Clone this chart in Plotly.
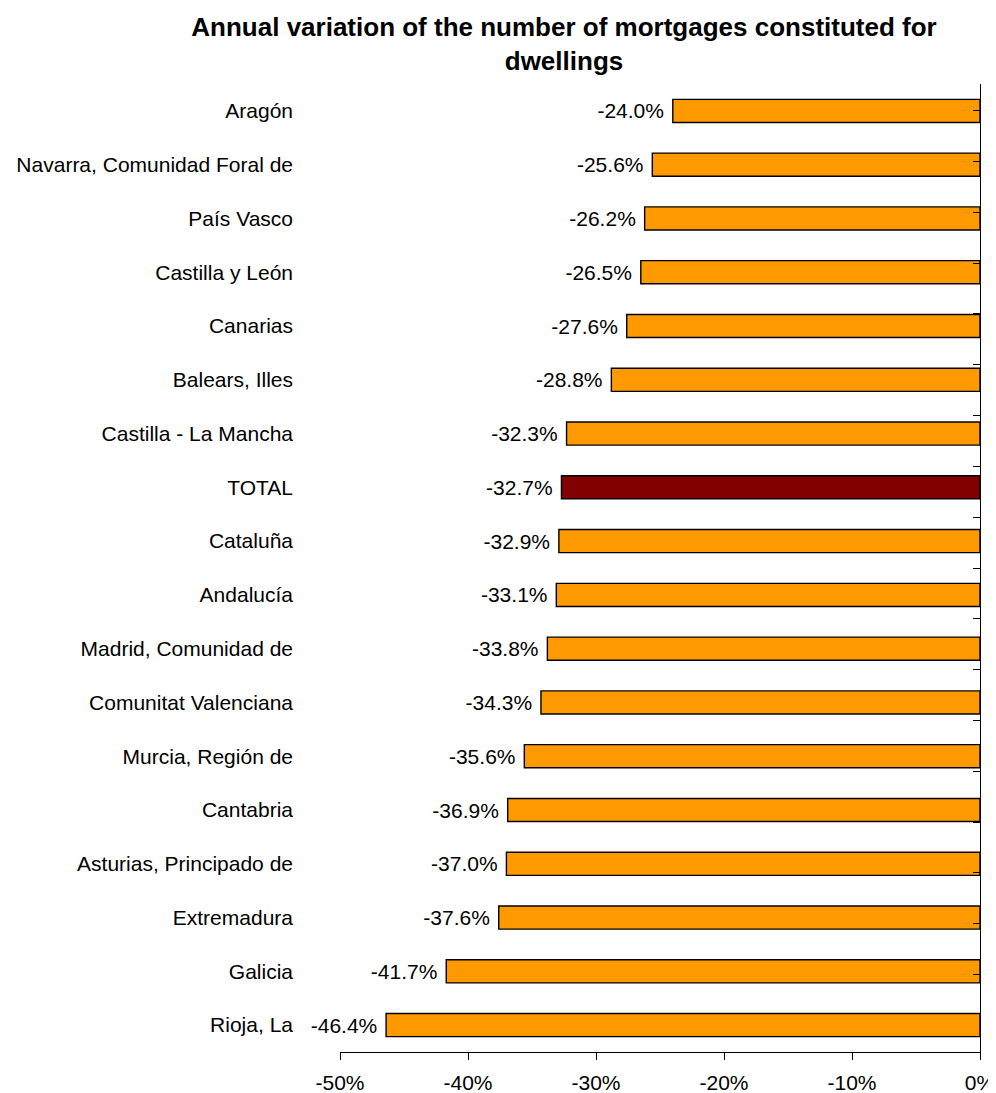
import plotly.graph_objects as go

regions = ["Aragón", "Navarra, Comunidad Foral de", "País Vasco", "Castilla y León",
           "Canarias", "Balears, Illes", "Castilla - La Mancha", "TOTAL", "Cataluña",
           "Andalucía", "Madrid, Comunidad de", "Comunitat Valenciana", "Murcia, Región de",
           "Cantabria", "Asturias, Principado de", "Extremadura", "Galicia", "Rioja, La"]
values = [-24.0, -25.6, -26.2, -26.5, -27.6, -28.8, -32.3, -32.7, -32.9,
          -33.1, -33.8, -34.3, -35.6, -36.9, -37.0, -37.6, -41.7, -46.4]
tick_vals = [-50, -40, -30, -20, -10, 0]
tick_text = ["-50%", "-40%", "-30%", "-20%", "-10%", "0%"]

colors = ["#800000" if r == "TOTAL" else "#FF9900" for r in regions]
labels = [f"{v:.1f}% " for v in values]

font_family = "Liberation Sans, Arial, sans-serif"

# the page body has an 8px margin, so the figure is sized to fill the rest
fig = go.Figure()
fig.add_trace(go.Bar(
    x=values, y=regions, orientation="h",
    marker=dict(color=colors, line=dict(color="black", width=1.4)),
    width=0.43,
    text=labels, textposition="outside", cliponaxis=False,
    textfont=dict(size=21, color="black", family=font_family),
    showlegend=False,
))
fig.add_trace(go.Scatter(
    x=values, y=regions, yaxis="y2", mode="markers",
    marker=dict(opacity=0), showlegend=False, hoverinfo="skip",
))

fig.update_layout(
    width=988, height=1085,
    margin=dict(l=332, r=16, t=76, b=41),
    paper_bgcolor="white", plot_bgcolor="white",
    font=dict(family=font_family, size=21, color="black"),
    title=dict(
        text="<b>Annual variation of the number of mortgages constituted for<br>dwellings</b>",
        x=0.35, xref="paper", xanchor="center",
        y=0.974, yref="container", yanchor="top",
        font=dict(size=26, family=font_family, color="black"),
        automargin=False,
    ),
    xaxis=dict(
        range=[-50, 0], tickvals=tick_vals, ticktext=tick_text,
        showgrid=False, zeroline=False, showline=True, linecolor="black", linewidth=1,
        ticks="outside", ticklen=7, tickcolor="black",
        tickfont=dict(size=21), ticklabelstandoff=5, automargin=False,
    ),
    yaxis=dict(
        categoryorder="array", categoryarray=regions, autorange="reversed",
        showgrid=False, zeroline=False, showline=False, ticks="",
        tickfont=dict(size=21), ticklabelstandoff=46, automargin=False,
    ),
    yaxis2=dict(
        overlaying="y", side="right", anchor="x",
        categoryorder="array", categoryarray=regions, autorange="reversed",
        showgrid=False, zeroline=False, showline=True, linecolor="black", linewidth=1,
        ticks="inside", ticklen=7, tickcolor="black", tickson="boundaries",
        showticklabels=False, automargin=False,
    ),
)

fig.write_html("out.html")
